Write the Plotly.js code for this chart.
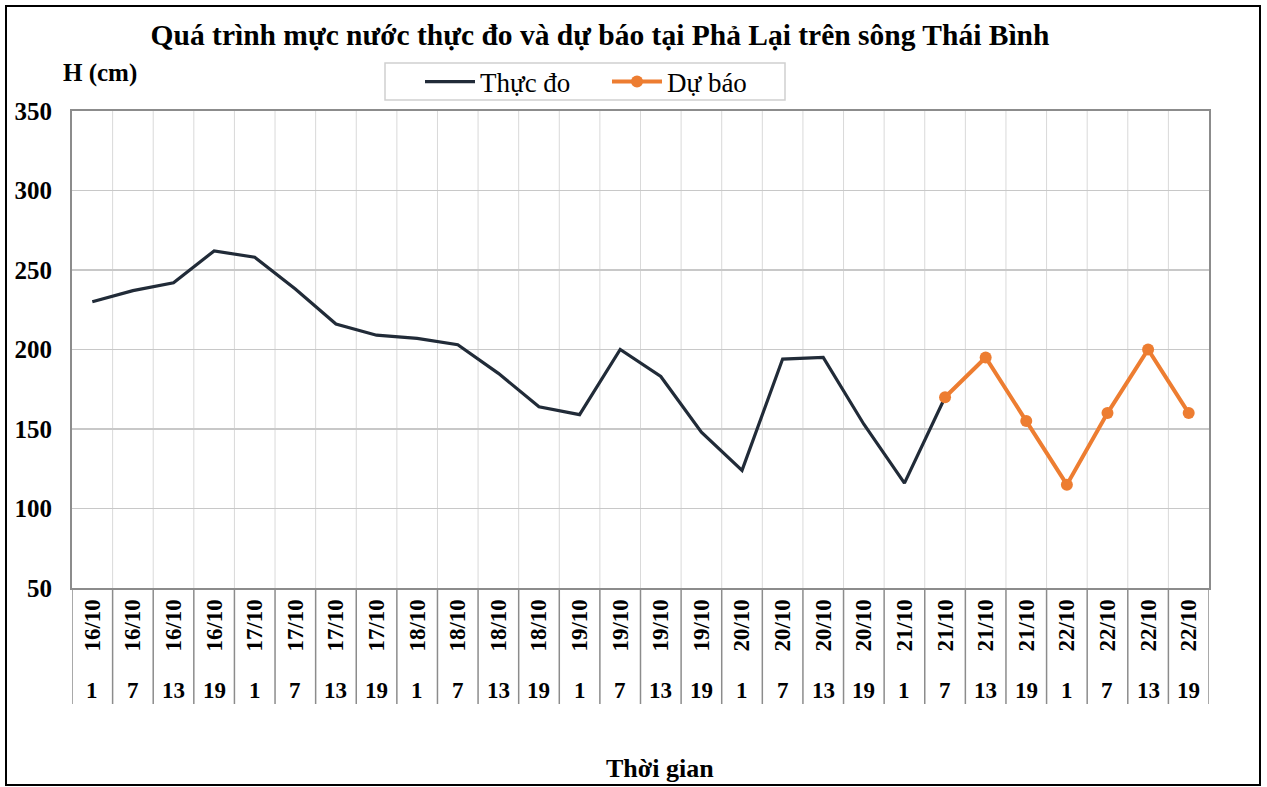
<!DOCTYPE html>
<html>
<head>
<meta charset="utf-8">
<script src="https://cdn.plot.ly/plotly-3.0.1.min.js"></script>
<style>
html,body{margin:0;padding:0;background:#fff;}
#chart{width:1267px;height:787px;}
</style>
</head>
<body>
<div id="chart"></div>
<script>
// ---- data ----
const dates = ["16/10","16/10","16/10","16/10","17/10","17/10","17/10","17/10",
  "18/10","18/10","18/10","18/10","19/10","19/10","19/10","19/10",
  "20/10","20/10","20/10","20/10","21/10","21/10","21/10","21/10",
  "22/10","22/10","22/10","22/10"];
const hours = ["1","7","13","19","1","7","13","19","1","7","13","19","1","7","13","19",
  "1","7","13","19","1","7","13","19","1","7","13","19"];
const observed = [230,237,242,262,258,238,216,209,207,203,185,164,159,200,183,148,124,194,195,153,116,170];
const forecast = [170,195,155,115,160,200,160];
const forecastStart = 21;
const yTicks = [50,100,150,200,250,300,350];

const titleText = "Quá trình mực nước thực đo và dự báo tại Phả Lại trên sông Thái Bình";
const seriesNames = ["Thực đo","Dự báo"];

// ---- layout geometry ----
const W = 1267, H = 787;
const L = 72, R = 58, T = 111, B = 199;
const pw = W - L - R, ph = H - T - B;
const px = v => (v - L) / pw;            // page x -> paper x
const py = v => (H - B - v) / ph;        // page y -> paper y

const FONT = '"Liberation Serif","Times New Roman",serif';
const idx = dates.map((d,i)=>i);

const traces = [
  {
    x: observed.map((v,i)=>i), y: observed, name: seriesNames[0],
    type: 'scatter', mode: 'lines',
    line: {color: '#212B38', width: 3.2},
    cliponaxis: false
  },
  {
    x: forecast.map((v,i)=>i+forecastStart), y: forecast, name: seriesNames[1],
    type: 'scatter', mode: 'lines+markers',
    line: {color: '#ED7D31', width: 4},
    marker: {color: '#ED7D31', size: 12},
    cliponaxis: false
  }
];

const shapes = [];
// vertical gridlines at category boundaries
for (let i = 0; i < dates.length - 1; i++) {
  shapes.push({type:'line', xref:'x', yref:'paper', x0:i+0.5, x1:i+0.5, y0:0, y1:1,
    line:{color:'#D9D9D9', width:1}, layer:'below'});
}
// category separators below the axis
for (let i = 0; i <= dates.length; i++) {
  shapes.push({type:'line', xref:'x', yref:'paper', x0:i-0.5, x1:i-0.5, y0:0, y1:py(704),
    line:{color:'#8C8C8C', width:1.5}});
}
// outer chart border
shapes.push({type:'rect', xref:'paper', yref:'paper',
  x0:px(6), x1:px(1260), y0:py(785), y1:py(6),
  line:{color:'#000', width:2}});
// legend frame
shapes.push({type:'rect', xref:'paper', yref:'paper',
  x0:px(385), x1:px(785), y0:py(100), y1:py(63),
  line:{color:'#D0D0D0', width:1.5}});

const annotations = [];
hours.forEach((h,i)=>{
  annotations.push({xref:'x', yref:'paper', x:i, y:py(690), text:h, showarrow:false,
    xanchor:'center', yanchor:'middle', font:{family:FONT, size:23, color:'#000', weight:'bold'}});
});
annotations.push({xref:'paper', yref:'paper', x:px(100), y:py(73), text:'<b>H (cm)</b>',
  showarrow:false, xanchor:'center', yanchor:'middle', font:{family:FONT, size:25, color:'#000'}});
annotations.push({xref:'paper', yref:'paper', x:px(660), y:py(768), text:'<b>Thời gian</b>',
  showarrow:false, xanchor:'center', yanchor:'middle', font:{family:FONT, size:26, color:'#000'}});

const layout = {
  width: W, height: H,
  margin: {l:L, r:R, t:T, b:B, pad:0},
  paper_bgcolor: '#fff', plot_bgcolor: '#fff',
  font: {family: FONT, color: '#000'},
  title: {text: '<b>' + titleText + '</b>', x: 600/W, xanchor:'center', xref:'container',
    y: 1 - 35/H, yanchor:'middle', yref:'container',
    font: {family: FONT, size: 29.5, color: '#000'}},
  showlegend: true,
  legend: {orientation:'h', x: px(420), xanchor:'left', y: py(82), yanchor:'middle',
    borderwidth:0, bgcolor:'rgba(0,0,0,0)',
    font:{family:FONT, size:27, color:'#000'}, itemwidth:50, traceorder:'normal',
    entrywidthmode:'pixels', entrywidth:122},
  xaxis: {
    range: [-0.5, dates.length - 0.5], tickmode:'array', tickvals: idx, ticktext: dates,
    tickangle: -90, tickfont:{family:FONT, size:23, color:'#000', weight:'bold'},
    showgrid:false, zeroline:false, showline:true, mirror:true,
    linecolor:'#8C8C8C', linewidth:2, ticks:'', fixedrange:true
  },
  yaxis: {
    range: [50, 350], tickmode:'array', tickvals: yTicks, ticktext: yTicks.map(String),
    tickfont:{family:FONT, size:25, color:'#000', weight:'bold'},
    showgrid:true, gridcolor:'#C8C8C8', gridwidth:1.5, zeroline:false,
    showline:true, mirror:true, linecolor:'#8C8C8C', linewidth:2, ticks:'',
    ticklabelstandoff: 13, fixedrange:true
  },
  shapes: shapes,
  annotations: annotations
};

Plotly.newPlot('chart', traces, layout, {displayModeBar:false, staticPlot:true});
</script>
</body>
</html>
